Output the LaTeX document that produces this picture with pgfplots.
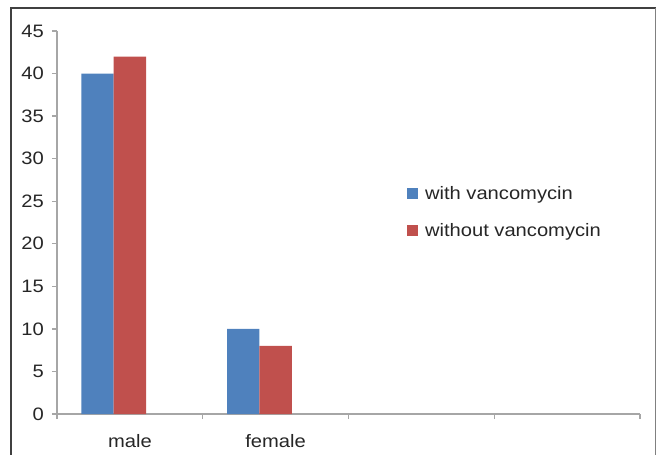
\documentclass[border=0pt]{standalone}
\usepackage{fontspec}
\setmainfont{Liberation Sans}[FakeStretch=1.12]
\usepackage{pgfplots}
\pgfplotsset{compat=1.18}
\definecolor{barblue}{HTML}{4F81BD}
\definecolor{barred}{HTML}{C0504D}
\definecolor{axgray}{HTML}{A6A6A6}
\definecolor{txt}{HTML}{262626}
\newcommand{\lblfont}{\fontsize{18}{21}\selectfont}
\begin{document}
\begin{tikzpicture}
\path[use as bounding box] (0pt,0pt) rectangle (657pt,-455pt);
% outer chart frame
\draw[line width=1.5pt, color=black!75] (11pt,-470pt) -- (11pt,-8pt) -- (655.5pt,-8pt);
\draw[line width=1.5pt, color=black!50] (655.5pt,-8pt) -- (655.5pt,-470pt);
\begin{axis}[
  scale only axis,
  width=583pt, height=383pt,
  at={(57pt,-414pt)}, anchor=south west,
  xmin=0, xmax=4, ymin=0, ymax=45,
  axis x line*=bottom, axis y line*=left,
  axis line style={draw=axgray, line width=1.5pt, -},
  tick style={draw=axgray, line width=1.3pt},
  tick align=outside,
  major tick length=5pt,
  ytick={0,5,...,45},
  xtick={0,1,2,3,4},
  xticklabels={},
  extra x ticks={0.5,1.5},
  extra x tick labels={male,female},
  extra x tick style={major tick length=0pt, tick style={draw=none}},
  /pgf/number format/assume math mode=true,
  yticklabel style={font=\lblfont, text=txt, inner sep=0pt, xshift=-8pt},
  xticklabel style={font=\lblfont, text=txt, inner sep=0pt, anchor=base, yshift=-33pt},
  legend style={at={(0.600,0.594)}, anchor=north west, draw=none, fill=none,
    font=\lblfont, text=txt, inner sep=0pt, row sep=22pt,
    nodes={inner sep=0pt},
    /tikz/every odd column/.append style={column sep=7pt}},
  legend cell align=left,
]
\addplot[ybar, bar width=0.2222, bar shift=0pt, draw=none, fill=barblue,
  legend image code/.code={\fill[barblue] (0pt,-5.5pt) rectangle (11pt,5.5pt);}]
  coordinates {(0.2778,40) (1.2778,10)};
\addlegendentry{with vancomycin}
\addplot[ybar, bar width=0.2222, bar shift=0pt, draw=none, fill=barred,
  legend image code/.code={\fill[barred] (0pt,-5.5pt) rectangle (11pt,5.5pt);}]
  coordinates {(0.5,42) (1.5,8)};
\addlegendentry{without vancomycin}
\end{axis}
\end{tikzpicture}
\end{document}
